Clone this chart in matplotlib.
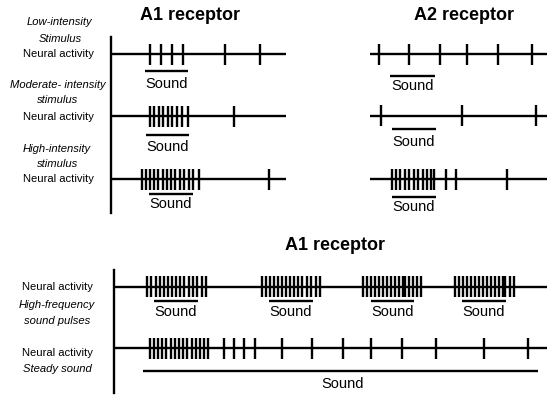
import matplotlib
matplotlib.use("Agg")
import matplotlib.pyplot as plt

# ---------------- data (spike times / stimulus spans, in time units) ----------------
# Top-left: A1 receptor, three stimulus intensities
a1_low_spikes = [150, 161, 172, 183, 225, 260]
a1_low_sound = [145, 188]
a1_mod_spikes = [150, 154, 158.5, 163, 167.5, 172, 177, 182, 187.5, 234]
a1_mod_sound = [146, 189]
a1_high_spikes = [142, 146, 150, 154, 158, 162.5, 166.5, 171, 175, 179.5, 184, 188.5, 193, 198.5, 269]
a1_high_sound = [149, 193]

# Top-right: A2 receptor
a2_low_spikes = [379, 409.3, 440, 467.3, 498.3, 532.3]
a2_low_sound = [390, 435]
a2_mod_spikes = [380.7, 461.7, 535.7]
a2_mod_sound = [391.7, 435.7]
a2_high_spikes = [391.5, 395.7, 400, 404.5, 409, 413.5, 418, 422.5, 427, 431, 433.5, 445.5, 455.5, 506.7]
a2_high_sound = [392, 435.7]

# Bottom: A1 receptor, pulses vs steady sound
pulse_spikes = [
    147, 151, 155.5, 159.5, 163.5, 167.5, 172, 176, 180, 184, 188.5, 192.5, 197, 201.5, 206,
    262, 266, 270, 274, 278, 282, 286, 290, 294, 298, 302, 306.5, 311, 315.5, 320,
    362.5, 366.5, 370.5, 375, 379, 383, 387, 391, 395, 399, 403, 404.5, 409, 413, 417, 421,
    454.5, 458.5, 463, 467, 471, 475, 479, 483, 487, 491, 495, 499, 503, 505, 509.5, 514,
]
pulse_sounds = [[154, 198], [269, 313], [371, 414], [462, 506]]
steady_spikes = [149.5, 153.7, 158, 162, 166.2, 170.5, 174.7, 179, 183, 187.3, 191.5, 195.8, 200, 204.2, 208.3,
                 224, 234, 244.3, 255.3, 282.3, 312.3, 343.3, 370.7, 402.3, 435.7, 484, 528.3]
steady_sound = [143.3, 538.3]

titles = ["A1 receptor", "A2 receptor", "A1 receptor"]
sound_label = "Sound"

# ---------------- figure ----------------
W, H = 547, 399
fig = plt.figure(figsize=(W / 100, H / 100), dpi=100)
ax = fig.add_axes([0, 0, 1, 1])
ax.set_xlim(0, W)
ax.set_ylim(H, 0)
ax.axis("off")

LW = 1.7
HALF = 10.5
LAB_FAM = ["Liberation Sans", "DejaVu Sans"]
SANS = ["Liberation Sans", "DejaVu Sans"]


def train(y, x0, x1, spikes, sounds, bar_y, text_y, sound_text=True):
    ax.plot([x0, x1], [y, y], color="black", lw=LW, solid_capstyle="butt")
    ax.vlines(spikes, y - HALF, y + HALF, color="black", lw=LW)
    for s in sounds:
        ax.plot(s, [bar_y, bar_y], color="black", lw=LW, solid_capstyle="butt")
        if sound_text:
            ax.text((s[0] + s[1]) / 2, text_y, sound_label, ha="center", va="center",
                    fontsize=10.5, family=SANS)


# vertical axes
ax.plot([111, 111], [37, 213], color="black", lw=LW)
ax.plot([114, 114], [270, 393], color="black", lw=LW)

# titles
ax.text(190, 16, titles[0], ha="center", va="center", fontsize=13, fontweight="bold", family=SANS)
ax.text(463.5, 16, titles[1], ha="center", va="center", fontsize=13, fontweight="bold", family=SANS)
ax.text(335, 245, titles[2], ha="center", va="center", fontsize=13, fontweight="bold", family=SANS)

# top-left trains
train(54, 111, 286, a1_low_spikes, [a1_low_sound], 71, 83.5)
train(116, 111, 286, a1_mod_spikes, [a1_mod_sound], 134.5, 147)
train(179, 111, 286, a1_high_spikes, [a1_high_sound], 194, 204)

# top-right trains
train(54, 370, 547, a2_low_spikes, [a2_low_sound], 76, 85.5)
train(115.7, 370, 547, a2_mod_spikes, [a2_mod_sound], 128.5, 141.5)
train(179, 370, 547, a2_high_spikes, [a2_high_sound], 196.7, 207)

# bottom trains
train(286.7, 114, 547, pulse_spikes, pulse_sounds, 301, 311.5)
train(348.3, 114, 547, steady_spikes, [steady_sound], 371, 0, sound_text=False)
ax.text(343, 384.5, sound_label, ha="center", va="center", fontsize=10.5, family=SANS)

# left labels
def lab(x, y, s, italic=False):
    ax.text(x, y, s, ha="center", va="center", fontsize=8.1,
            style="italic" if italic else "normal", family=LAB_FAM)

lab(59, 22, "Low-intensity", True)
lab(60, 39, "Stimulus", True)
lab(58.5, 54, "Neural activity")
lab(58, 85, "Moderate- intensity", True)
lab(58, 100, "stimulus", True)
lab(58.5, 116.5, "Neural activity")
lab(57, 149, "High-intensity", True)
lab(58, 164, "stimulus", True)
lab(58.5, 179.5, "Neural activity")

lab(57, 287.5, "Neural activity")
lab(57, 305, "High-frequency", True)
lab(57.5, 320.5, "sound pulses", True)
lab(57, 352.5, "Neural activity")
lab(57, 369, "Steady sound", True)

fig.savefig("out.png", dpi=100)
